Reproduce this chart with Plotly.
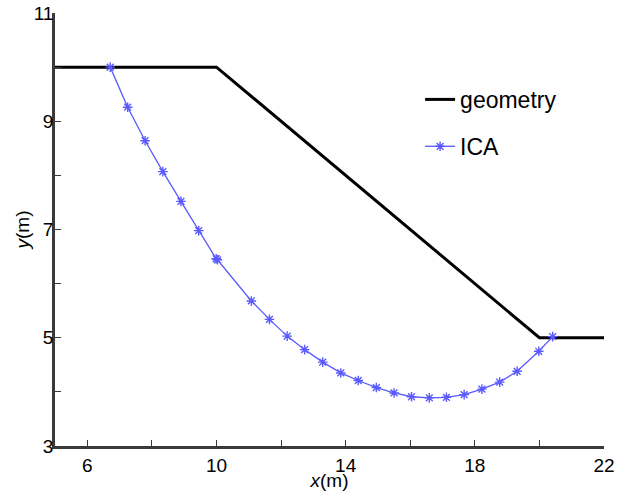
import plotly.graph_objects as go

# Geometry of the slope
geom_x = [5, 10, 20, 22]
geom_y = [10, 10, 5, 5]

# ICA critical slip surface
ica_x = [6.71, 7.25, 7.79, 8.34, 8.90, 9.45, 9.99, 10.03, 11.08, 11.64, 12.19, 12.73,
         13.29, 13.85, 14.39, 14.95, 15.50, 16.04, 16.59, 17.12, 17.67, 18.22, 18.77,
         19.31, 19.98, 20.41]
ica_y = [10.00, 9.26, 8.64, 8.07, 7.52, 6.98, 6.46, 6.44, 5.68, 5.34, 5.03, 4.78,
         4.55, 4.35, 4.21, 4.08, 3.98, 3.91, 3.89, 3.90, 3.95, 4.05, 4.18,
         4.38, 4.75, 5.02]

x_tickvals = [6, 8, 10, 12, 14, 16, 18, 20, 22]
x_ticktext = ["6", "", "10", "", "14", "", "18", "", "22"]
y_tickvals = [3, 4, 5, 6, 7, 8, 9, 10, 11]
y_ticktext = ["3", "", "5", "", "7", "", "9", "", "11"]

font = "Liberation Sans, Arial, sans-serif"

fig = go.Figure()
fig.add_trace(go.Scatter(
    x=geom_x, y=geom_y, mode="lines", name="geometry",
    line=dict(color="black", width=3), legendgroup="g1"))
fig.add_trace(go.Scatter(
    x=ica_x, y=ica_y, mode="lines+markers", name="ICA",
    line=dict(color="rgb(90,90,255)", width=1.3),
    marker=dict(symbol="asterisk-open", size=8,
                line=dict(color="rgb(25,25,230)", width=1.4)),
    legendgroup="g2"))

axis_common = dict(
    showgrid=False, zeroline=False, showline=True,
    linecolor="#3a3a3a", linewidth=2.5,
    ticks="inside", ticklen=6, tickwidth=1.2, tickcolor="#3a3a3a",
    tickfont=dict(family=font, size=19, color="black"),
    tickmode="array", mirror=False,
)

fig.update_xaxes(**axis_common, range=[5, 22],
                 tickvals=x_tickvals, ticktext=x_ticktext,
                 title=dict(text="<i>x</i>(m)", font=dict(family=font, size=19, color="black"),
                            standoff=0))
fig.update_yaxes(**axis_common, range=[3, 11],
                 tickvals=y_tickvals, ticktext=y_ticktext,
                 ticklabelstandoff=-5,
                 title=dict(text="<i>y</i>(m)", font=dict(family=font, size=19, color="black"),
                            standoff=0))

fig.update_layout(
    width=625, height=491,
    margin=dict(l=55, r=21, t=13, b=45, autoexpand=False),
    plot_bgcolor="white", paper_bgcolor="white",
    showlegend=True,
    legend=dict(x=0.665, y=0.85, xanchor="left", yanchor="top",
                font=dict(family=font, size=23, color="black"),
                bgcolor="rgba(0,0,0,0)", tracegroupgap=14,
                traceorder="grouped"),
)

fig.write_html("out.html",
               config={"displayModeBar": False},
               post_script="document.body.style.margin='0';document.body.style.overflow='hidden';")
